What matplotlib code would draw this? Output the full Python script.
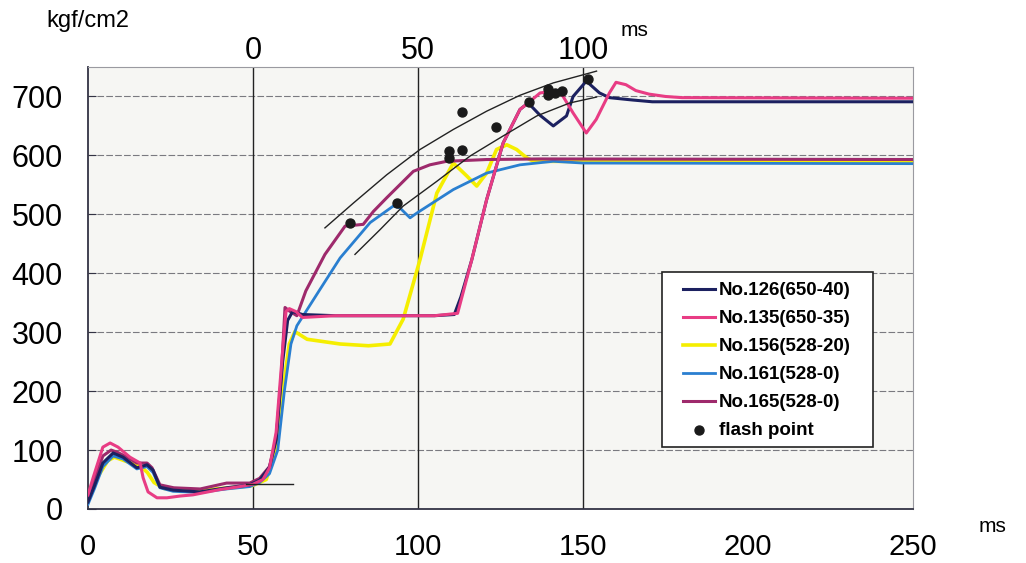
import matplotlib.pyplot as plt
from matplotlib.patches import Rectangle

plt.rcParams['font.family'] = ['Liberation Sans', 'DejaVu Sans']

# No.126 (650-40)
x126 = [0, 2, 4.5, 7.6, 10.6, 14.8, 17.9, 19.7, 21.8, 25.8, 33.9, 42, 49, 52, 55, 57, 59, 60.5, 62, 65,
        75, 90, 105, 111, 113, 116.3, 120.8, 125.8, 130.9, 133.4, 137, 141, 145, 147, 151, 155, 158, 165, 171, 250]
y126 = [12, 40, 78, 95, 88, 70, 75, 66, 37, 32, 29, 36, 41, 49, 71, 117, 250, 320, 335, 330,
        328, 328, 328, 330, 360, 423, 525, 621, 678, 689, 668, 650, 667, 700, 726, 706, 698, 694, 691, 691]

# No.135 (650-35)
x135 = [0, 1.6, 4.5, 6.7, 9.1, 12.7, 15.8, 16.7, 18.2, 20.9, 23.9, 27.9, 31.8, 40, 46, 50, 53, 55, 57, 59, 60, 61,
        63, 65, 75, 90, 105, 112, 116.3, 120.8, 125.8, 130.9, 133.4, 137, 140, 143, 147, 151, 154,
        158, 160, 163, 166, 170, 175, 180, 250]
y135 = [24, 54, 105, 112, 105, 88, 78, 53, 29, 19, 19, 22, 24, 33, 38, 42, 50, 70, 130, 270, 335, 340,
        335, 325, 328, 328, 328, 332, 423, 525, 621, 678, 689, 706, 708, 709, 672, 638, 661,
        706, 724, 720, 710, 704, 700, 698, 697]

# No.156 (528-20)
x156 = [0, 3, 6, 8, 10, 13, 16, 18, 20, 23, 28, 35, 45, 50, 54, 57, 59, 61, 62.7, 66.4, 76.4, 85, 91.5,
        95.5, 100.6, 105.7, 110.7, 114.8, 117.8, 120.8, 123.8, 126.9, 129.9, 132.9, 135, 250]
y156 = [15, 55, 82, 88, 84, 78, 72, 62, 45, 35, 30, 32, 37, 40, 50, 100, 200, 280, 301, 288, 280, 277, 280,
        322, 423, 536, 587, 565, 548, 570, 610, 618, 610, 596, 590, 588]

# No.161 (528-0)
x161 = [0, 2, 4.5, 7.6, 10.6, 14.8, 17.9, 19.7, 21.8, 25.8, 33.9, 42, 49, 52, 55, 57.5, 59.5, 61.5, 63.3,
        70, 76.4, 85.5, 92.5, 94.5, 97.6, 99.6, 110.7, 120.8, 130.9, 141, 150, 250]
y161 = [8, 35, 72, 90, 85, 68, 72, 62, 36, 30, 28, 34, 38, 45, 60, 100, 200, 280, 311,
        370, 426, 486, 514, 511, 494, 502, 542, 570, 584, 590, 587, 586]

# No.165 (528-0)
x165 = [0, 2, 4.5, 7, 9, 11.8, 14.8, 17.9, 19.4, 21.8, 26, 34, 42, 49, 52, 55, 57, 58.5, 59.7, 61, 63.3,
        66, 71.8, 77.9, 83.4, 86.5, 90.5, 98.6, 103.6, 108.7, 120.8, 137, 250]
y165 = [18, 50, 90, 100, 96, 88, 78, 78, 70, 41, 36, 34, 44, 44, 52, 72, 120, 220, 342, 336, 328,
        370, 432, 480, 483, 505, 528, 573, 584, 590, 593, 594, 593]

# flash points
xf = [79.4, 93.6, 109.4, 109.4, 113.3, 113.3, 123.6, 133.6, 139.4, 139.4, 141.5, 143.6, 151.5]
yf = [486, 520, 607, 595, 610, 674, 649, 690, 713, 702, 706, 709, 730]

# hand drawn envelope curves
xu = [71.8, 80.4, 90.5, 100.6, 110.7, 120.8, 130.9, 141, 154.1]
yu = [477, 519, 567, 610, 644, 675, 702, 723, 743]
xl = [80.9, 88.5, 95.5, 105.7, 115.8, 125.8, 136, 146, 154.1]
yl = [432, 474, 514, 556, 599, 633, 667, 689, 699]
xs = [48, 62]
ys = [42, 42]

fig = plt.figure(figsize=(10.26, 5.63), dpi=100)
ax = fig.add_axes([88/1026, 54/563, 825/1026, 442/563])
ax.set_facecolor('#f6f6f3')
ax.set_xlim(0, 250)
ax.set_ylim(0, 750)

for yv in range(100, 800, 100):
    ax.axhline(yv, color='#7a7a80', lw=0.8, ls=(0, (6, 2)), zorder=1)
for xv in [50, 100, 150]:
    ax.axvline(xv, color='#222222', lw=1.0, zorder=1)

ax.plot(x156, y156, color='#f5ee00', lw=2.6, zorder=2, label='No.156(528-20)')
ax.plot(x161, y161, color='#2a7fd0', lw=2.0, zorder=3, label='No.161(528-0)')
ax.plot(x165, y165, color='#9e2a6c', lw=2.2, zorder=4, label='No.165(528-0)')
ax.plot(x126, y126, color='#1c2160', lw=2.2, zorder=5, label='No.126(650-40)')
ax.plot(x135, y135, color='#e83c84', lw=2.2, zorder=6, label='No.135(650-35)')
ax.plot(xu, yu, color='#222222', lw=1.0, zorder=7)
ax.plot(xl, yl, color='#222222', lw=1.0, zorder=7)
ax.plot(xs, ys, color='#222222', lw=1.0, zorder=7)
ax.scatter(xf, yf, color='#1a1a1a', s=42, zorder=8, label='flash point')

ax.set_xticks([0, 50, 100, 150, 200, 250])
ax.set_yticks(range(0, 800, 100))
ax.tick_params(axis='x', length=0, labelsize=21, pad=17)
ax.tick_params(axis='y', direction='in', length=6, color='#333344', labelsize=22, pad=18)

for s in ['left', 'bottom']:
    ax.spines[s].set_color('#333344')
    ax.spines[s].set_linewidth(1.3)
for s in ['top', 'right']:
    ax.spines[s].set_color('#9a9aa0')
    ax.spines[s].set_linewidth(0.8)

top = ax.secondary_xaxis('top', functions=(lambda v: v - 50, lambda v: v + 50))
top.set_xticks([0, 50, 100])
top.tick_params(length=0, labelsize=22, pad=0.5)
top.spines['top'].set_visible(False)

fig.text(88/1026, 1 - 21/563, 'kgf/cm2', fontsize=17, ha='center', va='center')
fig.text(635/1026, 1 - 30/563, 'ms', fontsize=15, ha='center', va='center')
fig.text(993/1026, 1 - 526/563, 'ms', fontsize=15, ha='center', va='center')

# legend box drawn separately so the inner padding can match
ax.add_patch(Rectangle((0.6958, 0.140), 0.2557, 0.396, transform=ax.transAxes,
                       facecolor='white', edgecolor='#222222', lw=1.2, zorder=9))
handles, labels = ax.get_legend_handles_labels()
order = [3, 4, 0, 1, 2, 5]
leg = ax.legend([handles[i] for i in order], [labels[i] for i in order],
                loc='upper left', bbox_to_anchor=(0.7212, 0.513), borderaxespad=0,
                fontsize=13.5, frameon=False, labelspacing=0.58, handlelength=1.7,
                handletextpad=0.2, borderpad=0)
leg.set_zorder(10)
for t in leg.get_texts():
    t.set_fontweight('bold')

fig.savefig('out.png', dpi=100)
